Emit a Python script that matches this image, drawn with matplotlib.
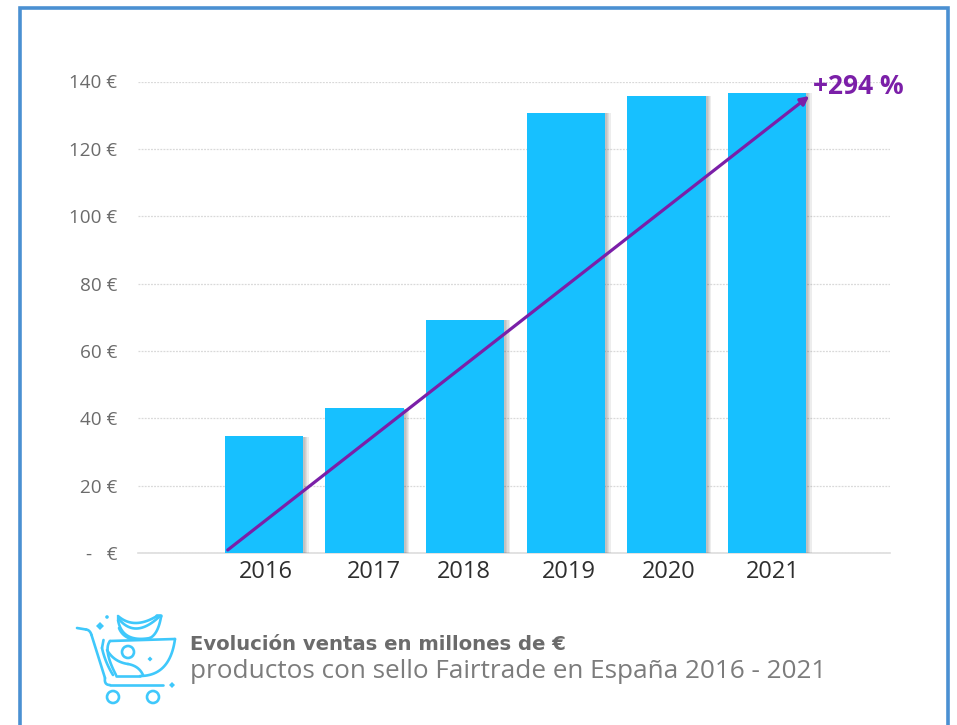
#!/usr/bin/env python3
"""Fairtrade sales in Spain 2016-2021: bars, growth arrow and cart logo caption."""
import numpy as np
import matplotlib
matplotlib.use('Agg')
import matplotlib.pyplot as plt
import matplotlib.patheffects as pe
from matplotlib.patches import Circle, Polygon

years = ['2016', '2017', '2018', '2019', '2020', '2021']
sales = [34.7, 43, 69.3, 130.7, 135.8, 136.7]
yticks = [0, 20, 40, 60, 80, 100, 120, 140]
ylabels = ['-   €', '20 €', '40 €', '60 €', '80 €', '100 €', '120 €', '140 €']
year_shift = [2, 9, -1, 3, 2, 6]  # the year labels sit a bit off-centre, in px

W, H = 957, 725
CYAN = '#17c0ff'; PURPLE = '#7b1fa8'; FRAME = '#4a90d2'; GREY = '#6b6b6b'
plt.rcParams.update({'font.family': ['Open Sans', 'DejaVu Sans']})

fig = plt.figure(figsize=(W / 100, H / 100), dpi=100)

# pixel-space overlay for the frame and the logo
bg = fig.add_axes([0, 0, 1, 1], zorder=0)
bg.set_xlim(0, W); bg.set_ylim(H, 0); bg.axis('off')
bg.plot([20, 20, 948, 948], [730, 7.5, 7.5, 730], color=FRAME, lw=2.6, solid_joinstyle='miter')

ax = fig.add_axes([138 / W, 1 - 553 / H, (890 - 138) / W, (553 - 81.5) / H], zorder=1)
ax.patch.set_alpha(0)
x = np.arange(len(years))
ax.set_xlim(-1.252, 6.223)
ax.set_ylim(0, 140)

ax.set_yticks(yticks, ylabels, fontsize=13.6, color=GREY)
ax.set_xticks([])
ax.tick_params(axis='y', length=0, pad=15)
ax.grid(axis='y', color='#d9d9d9', lw=0.9, ls=(0, (1.5, 1)), zorder=0)
ax.set_axisbelow(True)
for s in ('top', 'right', 'left'):
    ax.spines[s].set_visible(False)
ax.spines['bottom'].set_color('#dddddd')
ax.spines['bottom'].set_linewidth(1.2)

bars = ax.bar(x, sales, width=0.78, color=CYAN, zorder=3)
for b in bars:
    # soft edge on the right of each bar
    b.set_path_effects([pe.SimplePatchShadow(offset=(off, -0.4), shadow_rgbFace='#555555', alpha=0.10)
                        for off in (4.0, 3.0, 2.2, 1.4)] + [pe.Normal()])

for i, year in enumerate(years):
    ax.annotate(year, (x[i], 0), xytext=(year_shift[i] * 0.72, -5), textcoords='offset points',
                ha='center', va='top', fontsize=17, color='#2e2e2e')

# growth arrow, first bar's base to last bar's top
ax.annotate('', xy=(x[-1] + 0.42, sales[-1] - 1.0), xytext=(x[0] - 0.36, 0.9), zorder=5,
            arrowprops=dict(arrowstyle='-|>,head_length=0.5,head_width=0.25', color=PURPLE,
                            lw=2.3, shrinkA=0, shrinkB=0))
ax.text(x[-1] + 0.46, 138.6, '+294 %', color=PURPLE, fontsize=19, fontweight='bold',
        ha='left', va='center', clip_on=False, zorder=6)

# shopping cart with bananas
LOGO = '#3fc8fb'
lw = 1.9
def stroke(xs, ys, w=lw):
    bg.plot(xs, ys, color=LOGO, lw=w, solid_capstyle='round', solid_joinstyle='round')

def curve(p0, c, p1, w=lw):
    t = np.linspace(0, 1, 24)
    stroke((1 - t) ** 2 * p0[0] + 2 * t * (1 - t) * c[0] + t ** 2 * p1[0],
           (1 - t) ** 2 * p0[1] + 2 * t * (1 - t) * c[1] + t ** 2 * p1[1], w)

# cart frame
stroke([77, 86], [628, 629.5])
curve((86, 629.5), (90, 630), (91.5, 635))
stroke([91.5, 105], [635, 678])
curve((105, 678), (104, 685), (110, 685))
stroke([110, 163], [685, 685])
# bowl
stroke([110, 175], [641, 639])
curve((175, 639), (170, 676), (140, 676))
stroke([140, 116], [676, 676])
curve((110, 641), (103, 650), (116, 675))
stroke([103.5, 102], [640, 648])
curve((102, 648), (105, 662), (113, 675))
# wave across the bowl
curve((107, 650), (114, 662), (128, 664))
curve((128, 664), (139, 666), (143, 675))
# bananas
curve((118, 620), (122, 643), (150, 638))
curve((150, 638), (158, 634), (161, 617))
curve((118, 618), (135, 640), (160, 616))
curve((118, 616), (134, 630), (157, 616))
curve((119, 628), (122, 636), (131, 639))
stroke([157, 161], [616, 616], 2.6)
for cx, cy, r in [(128, 652, 6), (113, 697, 6), (153, 697, 6)]:
    bg.add_patch(Circle((cx, cy), r, fill=False, ec=LOGO, lw=lw))
for cx, cy, r in [(100, 626, 4), (172, 685, 3), (150, 659, 2.5)]:
    bg.add_patch(Polygon([(cx - r, cy), (cx, cy - r), (cx + r, cy), (cx, cy + r)], fc=LOGO, ec='none'))
bg.add_patch(Circle((107, 617), 1.8, fc=LOGO, ec='none'))

bg.text(190, 644.5, 'Evolución ventas en millones de €', fontsize=14.1, fontweight='bold',
        color=GREY, family=['DejaVu Sans'], ha='left', va='center')
bg.text(190, 672, 'productos con sello Fairtrade en España 2016 - 2021', fontsize=18.8,
        color='#7c7c7c', ha='left', va='center')

fig.savefig('out.png', dpi=100)
